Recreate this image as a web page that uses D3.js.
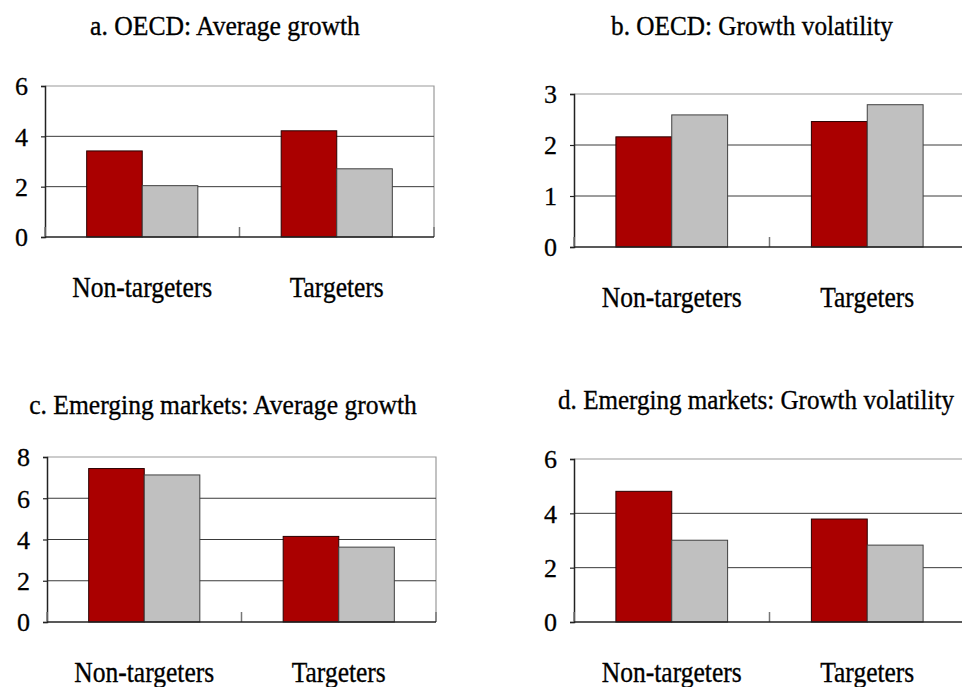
<!DOCTYPE html>
<html>
<head>
<meta charset="utf-8">
<script src="https://cdn.jsdelivr.net/npm/d3@7"></script>
<style>
  body { margin: 0; background: #fff; }
  svg { display: block; }
</style>
</head>
<body>
<svg id="chart" width="962" height="687"></svg>
<script>
"use strict";

// categories and the two series shown in every panel
var categories = ["Non-targeters", "Targeters"];
var seriesNames = ["first", "second"];

// values, one array per panel, [category][series]
var oecdGrowth = [[3.42, 2.04], [4.22, 2.71]];
var oecdVolatility = [[2.16, 2.59], [2.46, 2.79]];
var emGrowth = [[7.44, 7.13], [4.15, 3.63]];
var emVolatility = [[4.81, 3.01], [3.79, 2.83]];

var ticksA = [0, 2, 4, 6];
var ticksB = [0, 1, 2, 3];
var ticksC = [0, 2, 4, 6, 8];
var ticksD = [0, 2, 4, 6];

var titles = [
    "a. OECD: Average growth",
    "b. OECD: Growth volatility",
    "c. Emerging markets: Average growth",
    "d. Emerging markets: Growth volatility"
];

var FONT = "Liberation Serif";
var colors = {first: "#aa0000", second: "#c0c0c0"};
var strokes = {first: "#2a0000", second: "#404040"};

// panel boxes (plot area) and where the titles / labels sit
var panels = [
    {data: oecdGrowth, ticks: ticksA, title: titles[0],
     x0: 45, x1: 434, top: 86, bottom: 237, titleX: 225, titleY: 35, titleLen: 270, labelY: 297},
    {data: oecdVolatility, ticks: ticksB, title: titles[1],
     x0: 574, x1: 965, top: 94, bottom: 247, titleX: 752, titleY: 35, titleLen: 282, labelY: 307},
    {data: emGrowth, ticks: ticksC, title: titles[2],
     x0: 47, x1: 436, top: 457, bottom: 622, titleX: 223, titleY: 414, titleLen: 388, labelY: 682},
    {data: emVolatility, ticks: ticksD, title: titles[3],
     x0: 574, x1: 965, top: 459, bottom: 622, titleX: 756, titleY: 409, titleLen: 396, labelY: 682}
];

var labelLen = {"Non-targeters": 140, "Targeters": 94};

var svg = d3.select("#chart");

// condensed text: draw at full size, then squeeze horizontally to the wanted width
function squeezedText(parent, str, cx, baseY, size, width) {
    var holder = parent.append("g");
    var t = holder.append("text")
        .attr("x", 0).attr("y", 0)
        .attr("text-anchor", "middle")
        .attr("font-family", FONT)
        .style("font-family", FONT)
        .style("font-size", size + "px")
        .attr("fill", "#000")
        .attr("stroke", "#000")
        .attr("stroke-width", 0.35)
        .text(str);
    var natural = t.node().getComputedTextLength() || width;
    var sx = Math.min(1, width / natural);
    holder.attr("transform", "translate(" + cx + "," + baseY + ") scale(" + sx + ",1)");
    return holder;
}

function drawPanel(p) {
    var g = svg.append("g");

    var x = d3.scaleBand().domain(categories).range([p.x0, p.x1]).padding(0);
    var xs = d3.scaleBand().domain(seriesNames).range([0, x.bandwidth()])
        .paddingInner(0).paddingOuter(0.75);
    var y = d3.scaleLinear().domain([0, d3.max(p.ticks)]).range([p.bottom, p.top]);

    // plot frame: light top/right edges
    g.append("path")
        .attr("d", "M" + p.x0 + "," + y(d3.max(p.ticks)) + "H" + p.x1 + "V" + p.bottom)
        .attr("fill", "none")
        .attr("stroke", "#9a9a9a")
        .attr("stroke-width", 1.2);

    // gridlines
    g.selectAll(".grid")
        .data(p.ticks.slice(1, -1))
        .enter().append("line")
        .attr("x1", p.x0).attr("x2", p.x1)
        .attr("y1", function(d) { return y(d); })
        .attr("y2", function(d) { return y(d); })
        .attr("stroke", "#3a3a3a")
        .attr("stroke-width", 1);

    // y axis with ticks pointing left
    var yAxis = d3.axisLeft(y).tickValues(p.ticks).tickSize(4).tickPadding(13).tickFormat(d3.format("d"));
    var ya = g.append("g").attr("transform", "translate(" + p.x0 + ",0)").call(yAxis);
    ya.select(".domain").attr("stroke", "#222").attr("stroke-width", 1.5);
    ya.selectAll(".tick line").attr("stroke", "#222").attr("stroke-width", 1.2);
    ya.selectAll(".tick text")
        .attr("font-family", FONT)
        .style("font-family", FONT)
        .style("font-size", "26px")
        .attr("fill", "#000")
        .attr("stroke", "#000")
        .attr("stroke-width", 0.3)
        .attr("dy", "0.34em");

    // bars
    var groups = g.selectAll(".cat")
        .data(p.data)
        .enter().append("g")
        .attr("transform", function(d, i) { return "translate(" + x(categories[i]) + ",0)"; });

    groups.selectAll("rect")
        .data(function(d) { return d.map(function(v, j) { return {s: seriesNames[j], v: v}; }); })
        .enter().append("rect")
        .attr("x", function(d) { return xs(d.s); })
        .attr("width", xs.bandwidth())
        .attr("y", function(d) { return y(d.v); })
        .attr("height", function(d) { return p.bottom - y(d.v); })
        .attr("fill", function(d) { return colors[d.s]; })
        .attr("stroke", function(d) { return strokes[d.s]; })
        .attr("stroke-width", 1);

    // x axis baseline with small inward ticks at category boundaries
    var bounds = [p.x0, p.x0 + x.bandwidth(), p.x1];
    g.selectAll(".xtick")
        .data(bounds)
        .enter().append("line")
        .attr("x1", function(d) { return d; }).attr("x2", function(d) { return d; })
        .attr("y1", p.bottom).attr("y2", p.bottom - 10)
        .attr("stroke", "#777")
        .attr("stroke-width", 1.5);
    g.append("line")
        .attr("x1", p.x0).attr("x2", p.x1)
        .attr("y1", p.bottom).attr("y2", p.bottom)
        .attr("stroke", "#222")
        .attr("stroke-width", 1.5);

    // category labels
    categories.forEach(function(c) {
        squeezedText(g, c, x(c) + x.bandwidth() / 2, p.labelY, 30, labelLen[c]);
    });

    // title
    squeezedText(g, p.title, p.titleX, p.titleY, 28, p.titleLen);
}

panels.forEach(drawPanel);
</script>
</body>
</html>
